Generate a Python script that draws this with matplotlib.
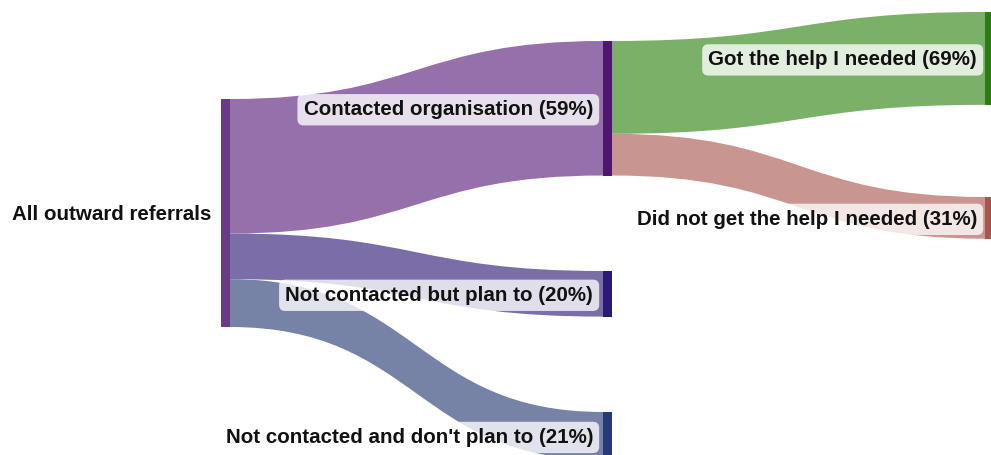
import matplotlib.pyplot as plt
from matplotlib.path import Path
from matplotlib.patches import PathPatch, Rectangle

plt.rcParams['font.family'] = ['Liberation Sans', 'DejaVu Sans']

# data (percentages)
source_label = 'All outward referrals'
stage1_labels = ['Contacted organisation', 'Not contacted but plan to', "Not contacted and don't plan to"]
stage1_pct = [59, 20, 21]
stage2_labels = ['Got the help I needed', 'Did not get the help I needed']
stage2_pct = [69, 31]  # share of "Contacted organisation"

# colours
src_node_col = '#6a3a86'
stage1_node_cols = ['#4f1670', '#2b1978', '#263a78']
stage1_flow_cols = ['#9670aa', '#7b6ea8', '#7783a6']
stage2_node_cols = ['#2b7d14', '#a8554d']
stage2_flow_cols = ['#7ab068', '#c99590']

# layout (pixels)
scale = 2.28
node_w = 9
x0, x1, x2 = 221, 603, 985
src_top = 99
stage1_tops = [41, 271, 412]
stage2_tops = [12, 197]

fig = plt.figure(figsize=(9.91, 4.55), dpi=100)
ax = fig.add_axes([0, 0, 1, 1])
ax.set_xlim(0, 991)
ax.set_ylim(455, 0)
ax.axis('off')


def flow(ax, xa, xb, ya0, ya1, yb0, yb1, color):
    xm = (xa + xb) / 2
    verts = [(xa, ya0), (xm, ya0), (xm, yb0), (xb, yb0),
             (xb, yb1), (xm, yb1), (xm, ya1), (xa, ya1), (xa, ya0)]
    codes = [Path.MOVETO, Path.CURVE4, Path.CURVE4, Path.CURVE4,
             Path.LINETO, Path.CURVE4, Path.CURVE4, Path.CURVE4, Path.CLOSEPOLY]
    ax.add_patch(PathPatch(Path(verts, codes), facecolor=color, edgecolor='none', zorder=1))


def label(ax, x, y, text, box=True):
    kw = dict(ha='right', va='center', fontsize=14.8, fontweight='bold', color='#111111', zorder=5)
    if box:
        kw['bbox'] = dict(boxstyle='round,pad=0.3,rounding_size=0.3', facecolor='white',
                          edgecolor='none', alpha=0.78)
    ax.text(x, y + 1.5, text, **kw)


# stage 1 flows
total = sum(stage1_pct)
y = src_top
for pct, top, col in zip(stage1_pct, stage1_tops, stage1_flow_cols):
    h = pct * scale
    flow(ax, x0 + node_w, x1, y, y + h, top, top + h, col)
    y += h

# stage 2 flows
c_h = stage1_pct[0] * scale
y = stage1_tops[0]
for pct, top, col in zip(stage2_pct, stage2_tops, stage2_flow_cols):
    h = pct / 100 * c_h
    flow(ax, x1 + node_w, x2, y, y + h, top, top + h, col)
    y += h

# nodes
ax.add_patch(Rectangle((x0, src_top), node_w, total * scale, facecolor=src_node_col, zorder=3))
for pct, top, col in zip(stage1_pct, stage1_tops, stage1_node_cols):
    ax.add_patch(Rectangle((x1, top), node_w, pct * scale, facecolor=col, zorder=3))
for pct, top, col in zip(stage2_pct, stage2_tops, stage2_node_cols):
    ax.add_patch(Rectangle((x2, top), node_w, pct / 100 * c_h, facecolor=col, zorder=3))

# labels
label(ax, x0 - 10, src_top + total * scale / 2, source_label, box=False)
for name, pct, top in zip(stage1_labels, stage1_pct, stage1_tops):
    label(ax, x1 - 10, top + pct * scale / 2, f'{name} ({pct}%)')
for name, pct, top in zip(stage2_labels, stage2_pct, stage2_tops):
    label(ax, x2 - 8, top + pct / 100 * c_h / 2, f'{name} ({pct}%)')

fig.savefig('out.png', dpi=100)
